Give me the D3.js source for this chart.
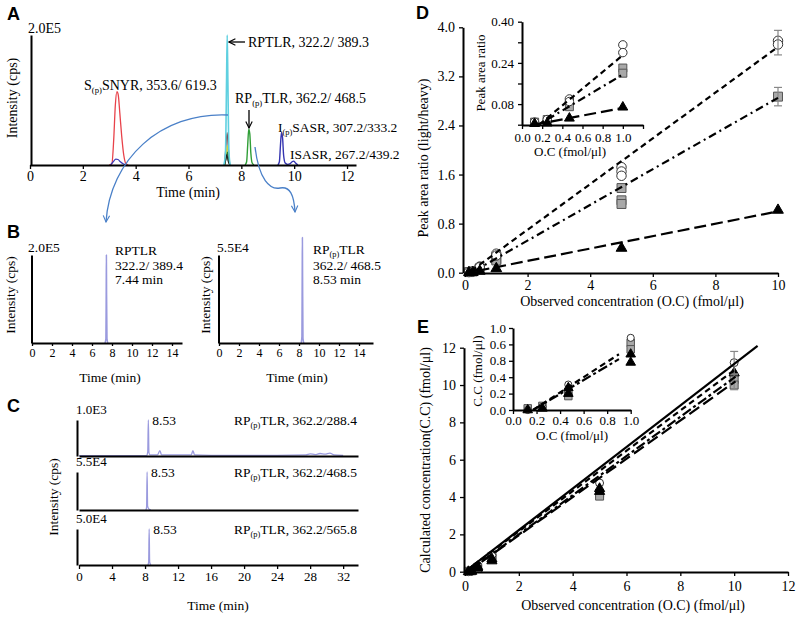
<!DOCTYPE html>
<html><head><meta charset="utf-8">
<script src="https://cdn.jsdelivr.net/npm/d3@7"></script>
<style>body{margin:0;background:#fff}svg{display:block}</style>
</head><body>
<svg id="c" width="800" height="618"></svg>
<script>
// ================= DATA =================
// Panel A: XIC traces [time (min), intensity (x1E5 cps)]
const aSSNYR     = [[3.0,0],[3.1,0.02],[3.17,0.4],[3.23,0.92],[3.29,1.13],[3.34,1.08],[3.4,0.8],[3.47,0.45],[3.55,0.15],[3.62,0.03],[3.72,0]];
const aSSNYRblue = [[3.05,0],[3.15,0.05],[3.25,0.09],[3.33,0.085],[3.42,0.05],[3.52,0.02],[3.65,0]];
const aRPTLR     = [[7.34,0],[7.4,0.2],[7.44,1.3],[7.465,2.0],[7.49,1.3],[7.53,0.2],[7.58,0]];
const aBrown     = [[7.36,0],[7.41,0.25],[7.46,0.5],[7.5,0.3],[7.56,0]];
const aYellow    = [[7.38,0],[7.43,0.18],[7.47,0.3],[7.51,0.12],[7.56,0]];
const aDkGreen   = [[7.37,0],[7.43,0.12],[7.48,0.2],[7.53,0.05],[7.58,0]];
const aBlack     = [[7.36,0],[7.42,0.1],[7.45,0.16],[7.5,0.06],[7.56,0]];
const aRPpTLR    = [[8.14,0],[8.2,0.05],[8.24,0.3],[8.28,0.55],[8.32,0.48],[8.36,0.18],[8.41,0.03],[8.48,0]];
const aIpSASR    = [[9.38,0],[9.44,0.05],[9.48,0.3],[9.52,0.5],[9.56,0.42],[9.6,0.15],[9.66,0.03],[9.75,0.01],[9.85,0.02],[9.92,0.05],[9.98,0.06],[10.05,0.03],[10.14,0]];
const aTicks = [0,2,4,6,8,10,12];

// Panel B: single-transition traces
const bRPTLR  = [[7.3,0],[7.39,0.1],[7.42,1.2],[7.44,2.0],[7.46,1.1],[7.5,0.1],[7.58,0]];   // x1E5
const bRPpTLR = [[8.22,0],[8.29,0.4],[8.32,4.5],[8.34,6.6],[8.36,4.2],[8.4,0.3],[8.48,0]];   // x1E4
const bTicks = [0,2,4,6,8,10,12,14];

// Panel C: three transitions of RP(p)TLR (fraction of panel maximum)
const c288 = [[0,0.01],[8.2,0.01],[8.33,0.12],[8.4,1.0],[8.47,0.1],[8.6,0.03],[9.5,0.03],[9.8,0.15],[10.0,0.03],[11,0.03],[12.5,0.03],[13.6,0.03],[13.8,0.15],[14.0,0.03],[16,0.02],[20,0.02],[24,0.02],[27.5,0.03],[28,0.06],[28.6,0.04],[29.2,0.07],[29.8,0.05],[30.4,0.08],[30.9,0.03],[32,0.02]];
const c468 = [[8.1,0],[8.19,0.08],[8.25,1.0],[8.31,0.1],[8.45,0.03],[8.7,0]];
const c565 = [[8.35,0],[8.44,0.08],[8.5,1.0],[8.56,0.08],[8.7,0]];
const cTicks = [0,4,8,12,16,20,24,28,32];
const cMaxLabels = ["1.0E3","5.5E4","5.0E4"];
const cTransitions = ["362.2/288.4","362.2/468.5","362.2/565.8"];

// Panels D & E: observed concentration (fmol/µl) and replicate values
const conc = [0.125, 0.25, 0.47, 1, 5, 10];
const dCircle   = [[0.01],[0.02],[0.1,0.09],[0.31,0.28],[1.72,1.65,1.58],[3.78,3.72]];
const dSquare   = [[0.01],[0.02],[0.07],[0.22,0.2],[1.38,1.18,1.12],[2.87]];
const dTriangle = [[0.004],[0.006],[0.025],[0.068],[0.40],[1.02]];
const dErrCircle = [0,0,0,0,0,0.2];
const dErrSquare = [0,0,0,0,0,0.15];
const dFitCircle   = [[0.2,0.03],[10,3.68]];
const dFitSquare   = [[0.3,0.03],[10,2.85]];
const dFitTriangle = [[0.4,0.03],[10,1.0]];
const diFitCircle   = [[0.17,0],[1.0,0.27]];
const diFitSquare   = [[0.25,0.02],[1.0,0.195]];
const diFitTriangle = [[0.12,0],[1.0,0.065]];
const dXTicks = [0,2,4,6,8,10];
const dYTicks = [0,0.8,1.6,2.4,3.2,4.0];
const diXTicks = [0,0.2,0.4,0.6,0.8,1.0,1.2];
const diYTicks = [0,0.08,0.16,0.24,0.32,0.40];

const eCircle   = [[0.0],[0.04],[0.31],[0.88],[4.75],[11.2]];
const eSquare   = [[0.02],[0.05],[0.22,0.17],[0.82,0.74],[4.2,4.05],[10.3,10.0]];
const eTriangle = [[0.0],[0.02],[0.27,0.2],[0.68,0.58],[4.45,4.3],[10.65]];
const eErrCircle = [0,0,0,0,0,0.6];
const eErrSquare = [0,0,0,0,0,0.4];
const eFitSolid = [[0,0],[10.87,12.1]];
const eFitA = [[0,0],[10.05,10.85]];
const eFitB = [[0.1,0],[10.05,10.45]];
const eFitC = [[0.1,0],[10.05,10.2]];
const eiFitA = [[0.17,0],[0.9,0.68]];
const eiFitB = [[0.17,0],[0.9,0.62]];
const eTicks = [0,2,4,6,8,10,12];
const eiXTicks = [0,0.2,0.4,0.6,0.8,1.0];
const eiYTicks = [0,0.2,0.4,0.6,0.8,1.0];
const eiYLabels = ["0.0","0.2","0.4","0.8","0.6","1.0"];

// ================= DRAWING =================
const SERIF = '"Liberation Serif","Times New Roman",serif';
const SANS = '"Liberation Sans",Arial,sans-serif';
const svg = d3.select('#c').attr('font-family', SERIF);
const defs = svg.append('defs');
function arrowMarker(id, color){
  defs.append('marker').attr('id',id).attr('viewBox','0 0 10 10').attr('refX',9).attr('refY',5)
    .attr('markerWidth',8).attr('markerHeight',8).attr('orient','auto-start-reverse').attr('markerUnits','userSpaceOnUse')
    .append('path').attr('d','M1,1 L9,5 L1,9').attr('fill','none').attr('stroke',color).attr('stroke-width',1.4);
}
arrowMarker('arrK','#000'); arrowMarker('arrB','#4a80c8');

function txt(x,y,s,fs,anchor){
  return svg.append('text').attr('x',x).attr('y',y).attr('font-size',fs).attr('text-anchor',anchor||'start').text(s);
}
function rich(x,y,segs,fs,anchor){
  const t = svg.append('text').attr('x',x).attr('y',y).attr('font-size',fs).attr('text-anchor',anchor||'start');
  let shifted = false;
  segs.forEach(s=>{
    const sub = typeof s !== 'string';
    const str = sub ? s.sub : s;
    const ts = t.append('tspan').text(str);
    if (sub){ ts.attr('font-size',fs*0.62).attr('dy',fs*0.2); shifted = true; }
    else if (shifted){ ts.attr('dy',-fs*0.2); shifted = false; }
  });
  return t;
}
function vtitle(x,y,s,fs){
  svg.append('text').attr('transform',`translate(${x},${y}) rotate(-90)`).attr('text-anchor','middle').attr('font-size',fs).text(s);
}
function letter(x,y,s){
  svg.append('text').attr('x',x).attr('y',y).attr('font-family',SANS).attr('font-weight','bold').attr('font-size',18).text(s);
}
function xAxis(scale,y,ticks,fs,size,pad,fmt){
  const ax = d3.axisBottom(scale).tickValues(ticks).tickSize(size).tickSizeOuter(0).tickPadding(pad);
  if (fmt) ax.tickFormat(fmt);
  const a = svg.append('g').attr('transform',`translate(0,${y})`).call(ax);
  a.attr('font-family',SERIF).attr('font-size',fs);
  a.select('.domain').attr('stroke-width',2);
  a.selectAll('.tick line').attr('stroke-width',1.3);
  a.selectAll('.tick text').attr('fill','#000');
  return a;
}
function yAxis(scale,x,ticks,fs,size,pad,fmt){
  const ax = d3.axisLeft(scale).tickValues(ticks).tickSize(size).tickSizeOuter(0).tickPadding(pad);
  if (fmt) ax.tickFormat(fmt);
  const a = svg.append('g').attr('transform',`translate(${x},0)`).call(ax);
  a.attr('font-family',SERIF).attr('font-size',fs);
  a.select('.domain').attr('stroke-width',2);
  a.selectAll('.tick line').attr('stroke-width',1.3);
  a.selectAll('.tick text').attr('fill','#000');
  return a;
}
function trace(xs,ys,pts,color,w){
  svg.append('path').datum(pts).attr('fill','none').attr('stroke',color).attr('stroke-width',w||1.2)
    .attr('stroke-linejoin','round')
    .attr('d', d3.line().x(d=>xs(d[0])).y(d=>ys(d[1])).curve(d3.curveMonotoneX));
}
function fit(xs,ys,pts,dash){
  svg.append('path').datum(pts).attr('fill','none').attr('stroke','#000').attr('stroke-width',2.2)
    .attr('stroke-dasharray',dash).attr('d', d3.line().x(d=>xs(d[0])).y(d=>ys(d[1])));
}
const SYM = {circle:d3.symbolCircle, square:d3.symbolSquare, triangle:d3.symbolTriangle};
const STY = {circle:{fill:'#fff',stroke:'#333'}, square:{fill:'#a9a9a9',stroke:'#555'}, triangle:{fill:'#000',stroke:'#000'}};
function scatter(xs,ys,vals,type,size,maxX){
  const pts=[]; conc.forEach((c,i)=>{ if(c<=maxX) vals[i].forEach(v=>pts.push([c,v])); });
  svg.append('g').selectAll('path').data(pts).join('path')
    .attr('transform',d=>`translate(${xs(d[0])},${ys(d[1])})`)
    .attr('d', d3.symbol().type(SYM[type]).size(size))
    .attr('fill',STY[type].fill).attr('stroke',STY[type].stroke).attr('stroke-width',1);
}
function errbars(xs,ys,vals,errs){
  conc.forEach((c,i)=>{
    if(!errs[i]) return;
    const m = d3.mean(vals[i]), x = xs(c);
    const g = svg.append('g').attr('stroke','#888').attr('stroke-width',1.2);
    g.append('line').attr('x1',x).attr('x2',x).attr('y1',ys(m-errs[i])).attr('y2',ys(m+errs[i]));
    [m-errs[i], m+errs[i]].forEach(v=>g.append('line').attr('x1',x-4).attr('x2',x+4).attr('y1',ys(v)).attr('y2',ys(v)));
  });
}

// ---------- Panel A ----------
const xA = d3.scaleLinear([0,12.34],[30,356]);
const yA = d3.scaleLinear([0,2],[165,35]);
trace(xA,yA,aSSNYR,'#e8424a',1.3);
trace(xA,yA,aSSNYRblue,'#3a3ab8',1.2);
trace(xA,yA,aBrown,'#8b3a3a',1.2);
trace(xA,yA,aYellow,'#d6cf3a',1.2);
trace(xA,yA,aDkGreen,'#2f7a2f',1.2);
trace(xA,yA,aBlack,'#222',1.2);
trace(xA,yA,aRPTLR,'#5fd0e0',1.6);
trace(xA,yA,aRPpTLR,'#2f9e36',1.4);
trace(xA,yA,aIpSASR,'#3434b0',1.4);
xAxis(xA,165,aTicks,14,4,2);
yAxis(yA,31,[],14,0,0);
txt(28,33,'2.0E5',14);
vtitle(17,98,'Intensity (cps)',14);
txt(188,197,'Time (min)',14,'middle');
rich(248,47,['RPTLR, 322.2/ 389.3'],14);
svg.append('line').attr('x1',245).attr('y1',42).attr('x2',229).attr('y2',42).attr('stroke','#000').attr('stroke-width',1.3).attr('marker-end','url(#arrK)');
rich(84,90,['S',{sub:'(p)'},'SNYR, 353.6/ 619.3'],14);
rich(235,103,['RP',{sub:'(p)'},'TLR, 362.2/ 468.5'],14);
svg.append('line').attr('x1',249).attr('y1',110).attr('x2',249).attr('y2',128).attr('stroke','#000').attr('stroke-width',1.3).attr('marker-end','url(#arrK)');
rich(278,132,['I',{sub:'(p)'},'SASR, 307.2/333.2'],13.5);
rich(290,159,['ISASR, 267.2/439.2'],13.5);
letter(7,20,'A');

// blue connector arrows (annotation)
svg.append('path').attr('d','M228,115 C160,112 110,160 106,222').attr('fill','none').attr('stroke','#4a80c8').attr('stroke-width',1.3).attr('marker-end','url(#arrB)');
svg.append('path').attr('d','M255,147 C259,180 270,190 280,188 C290,186 294,195 295,212').attr('fill','none').attr('stroke','#4a80c8').attr('stroke-width',1.3).attr('marker-end','url(#arrB)');

// ---------- Panel B ----------
const xBL = d3.scaleLinear([0,15],[32,182]);
const yBL = d3.scaleLinear([0,2],[343,255]);
const xBR = d3.scaleLinear([0,15.4],[219,373]);
const yBR = d3.scaleLinear([0,5.5],[343,255]);
trace(xBL,yBL,bRPTLR,'#9a9ade',1.5);
trace(xBR,yBR,bRPpTLR,'#9a9ade',1.5);
xAxis(xBL,343,bTicks,12,3,2);
yAxis(yBL,31.5,[],12,0,0);
xAxis(xBR,343,bTicks,12,3,2);
yAxis(yBR,218.5,[],12,0,0);
txt(28,252,'2.0E5',13.5);
txt(217,252,'5.5E4',13.5);
vtitle(15,295,'Intensity (cps)',13.5);
vtitle(210,295,'Intensity (cps)',13.5);
txt(110,382,'Time (min)',13.5,'middle');
txt(297,382,'Time (min)',13.5,'middle');
rich(115,255,['RPTLR'],13.5);
rich(115,270,['322.2/ 389.4'],13.5);
rich(115,284,['7.44 min'],13.5);
rich(313,254,['RP',{sub:'(p)'},'TLR'],13.5);
rich(313,270,['362.2/ 468.5'],13.5);
rich(313,284,['8.53 min'],13.5);
letter(7,238,'B');

// ---------- Panel C ----------
const xC = d3.scaleLinear([0,33.8],[79,358]);
const cRows = [[456,420],[510,472],[565,529]];
const cTraces = [c288,c468,c565];
cRows.forEach((r,i)=>{
  const yC = d3.scaleLinear([0,1],r);
  trace(xC,yC,cTraces[i],'#9a9ade',1.3);
  if (i===2) xAxis(xC,r[0],cTicks,13,4,3);
  else xAxis(xC,r[0],[],13,0,0);
  yAxis(yC,77,[],13,0,0);
  txt(76,r[1]-6,cMaxLabels[i],13);
  const pk = d3.greatest(cTraces[i],d=>d[1]);
  txt(xC(pk[0])+4,r[1]+5,'8.53',13.5);
  rich(357,r[1]+5,['RP',{sub:'(p)'},'TLR, '+cTransitions[i]],13.5,'end');
});
vtitle(58,497,'Intensity (cps)',13.5);
txt(218,610,'Time (min)',13.5,'middle');
letter(7,412,'C');

// ---------- Panel D ----------
const xD = d3.scaleLinear([0,10],[465,778]);
const yD = d3.scaleLinear([0,4],[272.7,27.3]);
scatter(xD,yD,dSquare,'square',80,10);
scatter(xD,yD,dCircle,'circle',70,10);
scatter(xD,yD,dTriangle,'triangle',50,10);
errbars(xD,yD,dCircle,dErrCircle);
errbars(xD,yD,dSquare,dErrSquare);
fit(xD,yD,dFitCircle,'6,4');
fit(xD,yD,dFitSquare,'8,4,2,4');
fit(xD,yD,dFitTriangle,'12,5');
xAxis(xD,273,dXTicks,14,4,3,d3.format('d'));
yAxis(yD,463,dYTicks,14,4,4,d3.format('.1f'));
vtitle(428,158,'Peak area ratio (light/heavy)',14);
txt(632,306,'Observed concentration (O.C) (fmol/μl)',14,'middle');
letter(416,19,'D');
// inset
const xDi = d3.scaleLinear([0,1.2],[522,643]);
const yDi = d3.scaleLinear([0,0.4],[124.7,21.7]);
scatter(xDi,yDi,dSquare,'square',64,1);
scatter(xDi,yDi,dCircle,'circle',56,1);
scatter(xDi,yDi,dTriangle,'triangle',42,1);
fit(xDi,yDi,diFitCircle,'6,4');
fit(xDi,yDi,diFitSquare,'8,4,2,4');
fit(xDi,yDi,diFitTriangle,'12,5');
xAxis(xDi,125,diXTicks,13,4,4,d=>d>1.01?'':d3.format('.1f')(d));
yAxis(yDi,522,diYTicks,13,4,4,(d,i)=>i%2===1?d3.format('.2f')(d):'');
vtitle(485,73,'Peak area ratio',13);
txt(570,156,'O.C (fmol/μl)',13,'middle');

// ---------- Panel E ----------
const xE = d3.scaleLinear([0,12],[465,788]);
const yE = d3.scaleLinear([0,12],[571.7,347.7]);
scatter(xE,yE,eSquare,'square',64,10);
scatter(xE,yE,eCircle,'circle',50,10);
scatter(xE,yE,eTriangle,'triangle',45,10);
errbars(xE,yE,eCircle,eErrCircle);
errbars(xE,yE,eSquare,eErrSquare);
fit(xE,yE,eFitSolid,null);
fit(xE,yE,eFitA,'6,4');
fit(xE,yE,eFitB,'10,3,3,3');
fit(xE,yE,eFitC,'12,5');
xAxis(xE,572,eTicks,14,4,5,d3.format('d'));
yAxis(yE,464,eTicks,14,4,4,d3.format('d'));
vtitle(430,460,'Calculated concentration(C.C) (fmol/μl)',14);
txt(633,610,'Observed concentration (O.C) (fmol/μl)',14,'middle');
letter(417,333,'E');
// inset
const xEi = d3.scaleLinear([0,1.0],[513,630.7]);
const yEi = d3.scaleLinear([0,1],[410,328]);
scatter(xEi,yEi,eSquare,'square',56,1);
scatter(xEi,yEi,eCircle,'circle',40,1);
scatter(xEi,yEi,eTriangle,'triangle',40,1);
fit(xEi,yEi,eiFitA,'6,4');
fit(xEi,yEi,eiFitB,'10,3,3,3');
xAxis(xEi,410,eiXTicks,13,4,2,d3.format('.1f'));
yAxis(yEi,513,eiYTicks,13,4,3,(d,i)=>eiYLabels[i]);
vtitle(482,371,'C.C (fmol/μl)',13);
txt(572,440,'O.C (fmol/μl)',13,'middle');
</script>
</body></html>
